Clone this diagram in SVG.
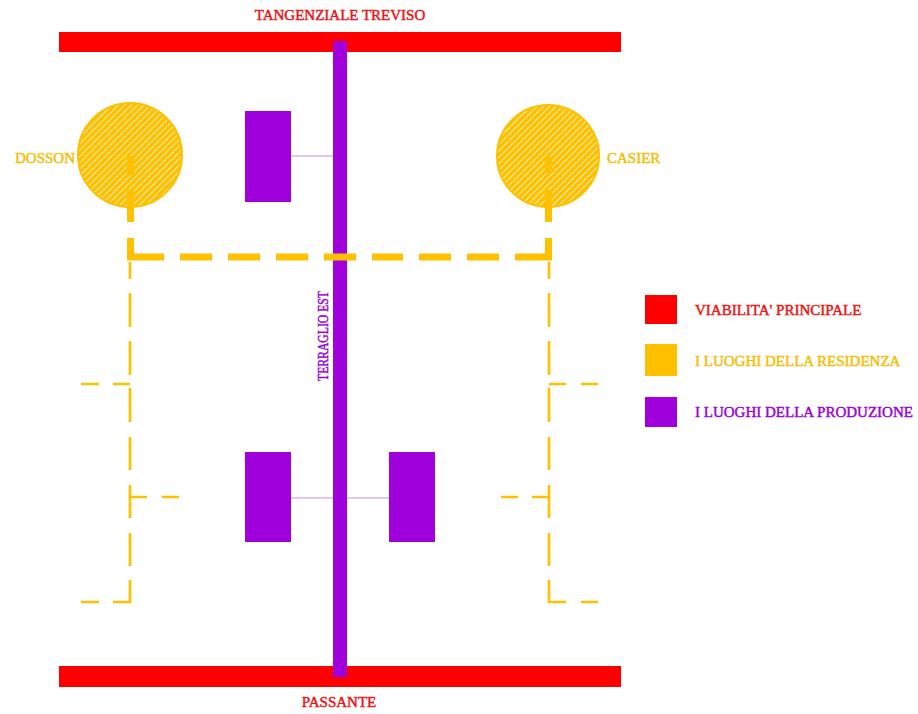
<svg xmlns="http://www.w3.org/2000/svg" width="918" height="714" viewBox="0 0 918 714">
<style>
.t{font-family:"Liberation Serif","Times New Roman",serif;font-size:15px;stroke-width:0.45}
.red{fill:#FF0000}
.org{fill:#FFC000}
.pur{fill:#A000DC}
text.red{fill:#F01010;stroke:#F01010}
text.org{fill:#F5BE00;stroke:#F5BE00}
text.pur{fill:#9A00D8;stroke:#9A00D8}
.thick{stroke:#FFC000;stroke-width:7;fill:none}
.thin{stroke:#FFC000;stroke-width:2.7;fill:none}
.link{stroke:#C890E8;stroke-width:1.2}
</style>
<defs>
<pattern id="hatch" patternUnits="userSpaceOnUse" width="4.5" height="4.5" patternTransform="rotate(45)">
<rect width="4.5" height="4.5" fill="#FFC000"/>
<line x1="0" y1="0" x2="0" y2="4.5" stroke="#FFFFFF" stroke-width="1.4"/>
</pattern>
</defs>
<rect width="918" height="714" fill="#FFFFFF"/>
<g id="tangenziale">
<rect x="59" y="32" width="562" height="20" class="red"/>
<text x="340" y="20" text-anchor="middle" class="t red">TANGENZIALE TREVISO</text>
</g>
<g id="passante">
<rect x="59" y="666" width="562" height="21" class="red"/>
<text x="339" y="707" text-anchor="middle" class="t red">PASSANTE</text>
</g>
<g id="terraglio">
<rect x="333" y="41" width="14" height="636" class="pur"/>
<text transform="translate(328,336) rotate(-90)" text-anchor="middle" textLength="90" lengthAdjust="spacingAndGlyphs" class="t pur">TERRAGLIO EST</text>
</g>
<g id="dosson">
<circle cx="130" cy="155" r="52" fill="url(#hatch)" stroke="#FFC000" stroke-width="2"/>
<text x="75" y="163" text-anchor="end" class="t org">DOSSON</text>
</g>
<g id="casier">
<circle cx="548" cy="156" r="51" fill="url(#hatch)" stroke="#FFC000" stroke-width="2"/>
<text x="607" y="163" class="t org">CASIER</text>
</g>
<g id="prod-top">
<rect x="245" y="111" width="46" height="91" class="pur"/>
</g>
<g id="prod-bottom-left">
<rect x="245" y="452" width="46" height="90" class="pur"/>
</g>
<g id="prod-bottom-right">
<rect x="389" y="452" width="46" height="90" class="pur"/>
</g>
<g id="connectors">
<line x1="291" y1="156" x2="333" y2="156" class="link"/>
<line x1="291" y1="498" x2="333" y2="498" class="link"/>
<line x1="347" y1="498" x2="389" y2="498" class="link"/>
<path class="thick" d="M130.5 156V175M130.5 190V222M130.5 238V260M548.5 157V173M548.5 190V222M548.5 238V260"/>
<path class="thick" d="M127 257H164M180 257H212M228 257H260M276 257H308M324 257H356M372 257H403M419 257H451M467 257H499M515 257H552"/>
<path class="thin" d="M130 262V279M130 293V327M130 341V375M130 388V422M130 437V470M130 485V518M130 533V566M130 580V602H113M99 602H81M81 384H99M113 384H130M130 497H147M162 497H179"/>
<path class="thin" d="M549 262V279M549 293V327M549 341V375M549 388V422M549 437V470M549 485V518M549 533V566M549 580V602H566M581 602H598M549 384H566M581 384H598M549 497H532M518 497H501"/>
</g>
<g id="legend">
<rect x="645" y="295" width="32" height="29" class="red"/>
<text x="695" y="315" class="t red">VIABILITA' PRINCIPALE</text>
<rect x="645" y="344" width="32" height="32" class="org"/>
<text x="695" y="366" class="t org">I LUOGHI DELLA RESIDENZA</text>
<rect x="645" y="397" width="32" height="30" class="pur"/>
<text x="695" y="417" class="t pur">I LUOGHI DELLA PRODUZIONE</text>
</g>
</svg>
